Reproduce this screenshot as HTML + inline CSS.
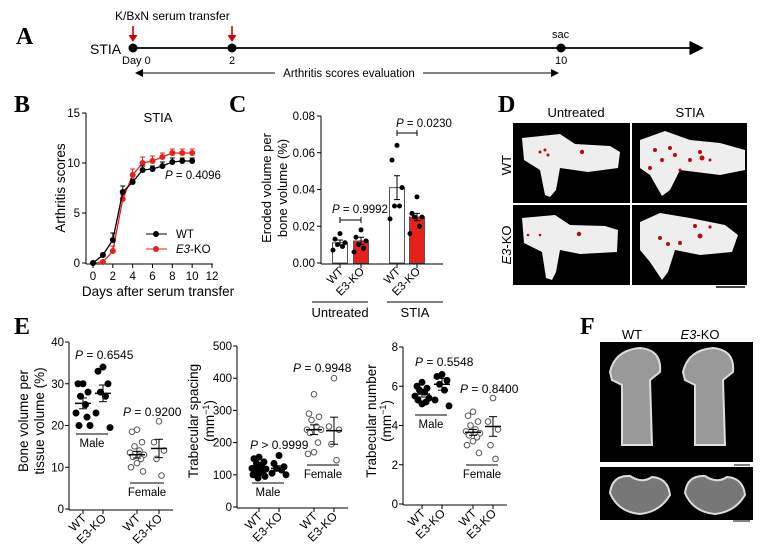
<!DOCTYPE html>
<html><head><meta charset="utf-8"><style>
body{margin:0;background:#fff}
svg{display:block;font-family:"Liberation Sans",Arial,sans-serif}
.pl{font-family:"Liberation Serif",serif;font-weight:bold;font-size:24px}
</style></head><body>
<svg id="fig" width="760" height="557" viewBox="0 0 760 557">
<defs>
<marker id="ah" markerWidth="8" markerHeight="8" refX="7" refY="4" orient="auto"><path d="M0,0 L8,4 L0,8 z" fill="#000"/></marker>
<marker id="ahs" markerWidth="8" markerHeight="8" refX="1" refY="4" orient="auto"><path d="M8,0 L0,4 L8,8 z" fill="#000"/></marker>
</defs>
<!-- Panel A -->
<g>
<text class="pl" x="16" y="44">A</text>
<text x="115" y="20" font-size="12">K/BxN serum transfer</text>
<line x1="133" y1="26" x2="133" y2="36" stroke="#c00" stroke-width="1.6"/>
<polygon points="128.5,35 137.5,35 133,42" fill="#c00"/>
<line x1="232" y1="26" x2="232" y2="36" stroke="#c00" stroke-width="1.6"/>
<polygon points="227.5,35 236.5,35 232,42" fill="#c00"/>
<text x="90" y="54" font-size="14">STIA</text>
<line x1="133" y1="48" x2="702" y2="48" stroke="#000" stroke-width="1.8" marker-end="url(#ah)"/>
<circle cx="133" cy="48" r="4.5" fill="#000"/><circle cx="232" cy="48" r="4.5" fill="#000"/><circle cx="561" cy="48" r="4.5" fill="#000"/>
<text x="552" y="38" font-size="11">sac</text>
<text x="122" y="64" font-size="11">Day 0</text><text x="229" y="64" font-size="11">2</text><text x="555" y="64" font-size="11">10</text>
<line x1="136" y1="73" x2="558" y2="73" stroke="#000" stroke-width="1" marker-start="url(#ahs)" marker-end="url(#ah)"/>
<rect x="275" y="65" width="148" height="14" fill="#fff"/>
<text x="349" y="77" font-size="11.5" text-anchor="middle">Arthritis scores evaluation</text>
</g>
<text class="pl" x="14" y="112">B</text>
<text class="pl" x="229" y="112">C</text>
<text class="pl" x="498" y="112">D</text>
<text class="pl" x="14" y="334">E</text>
<text class="pl" x="580" y="334">F</text>
<!-- Panel D images -->
<g>
<text x="576" y="117" font-size="13" text-anchor="middle">Untreated</text>
<text x="690" y="117" font-size="13" text-anchor="middle">STIA</text>
<text transform="translate(511,165) rotate(-90)" font-size="13" text-anchor="middle">WT</text>
<text transform="translate(511,245) rotate(-90)" font-size="13" text-anchor="middle"><tspan font-style="italic">E3</tspan>-KO</text>
<rect x="513" y="123" width="117" height="80" fill="#000"/><rect x="632" y="123" width="115" height="80" fill="#000"/>
<rect x="513" y="205" width="117" height="80" fill="#000"/><rect x="632" y="205" width="115" height="80" fill="#000"/>
<path d="M522,138 L560,134 L575,144 L610,146 L620,152 L618,168 L588,172 L560,168 L556,190 L550,197 L545,195 L540,170 L524,160 Z" fill="#eee"/>
<path d="M640,140 L665,131 L690,140 L720,143 L745,150 L745,170 L720,175 L680,170 L670,190 L662,196 L650,175 L640,168 Z" fill="#eee"/>
<path d="M522,218 L555,215 L570,225 L605,226 L618,230 L617,252 L580,254 L560,250 L556,272 L552,280 L546,278 L542,252 L524,243 Z" fill="#eee"/>
<path d="M640,222 L660,213 L690,218 L725,225 L738,235 L732,252 L700,255 L675,250 L668,272 L662,280 L650,262 L640,250 Z" fill="#eee"/>
<g fill="#b01010"><circle cx="540" cy="152" r="1.5"/><circle cx="545" cy="150" r="1.5"/><circle cx="582" cy="152" r="2.2"/><circle cx="548" cy="155" r="1.5"/>
<circle cx="655" cy="150" r="2"/><circle cx="662" cy="160" r="2"/><circle cx="670" cy="148" r="2"/><circle cx="690" cy="160" r="2"/><circle cx="700" cy="152" r="2"/><circle cx="702" cy="158" r="2.5"/><circle cx="680" cy="170" r="1.5"/><circle cx="650" cy="168" r="2"/><circle cx="675" cy="155" r="2"/><circle cx="710" cy="160" r="1.5"/>
<circle cx="528" cy="235" r="1.3"/><circle cx="540" cy="235" r="1.3"/><circle cx="579" cy="234" r="2.2"/>
<circle cx="660" cy="238" r="2"/><circle cx="668" cy="244" r="2"/><circle cx="680" cy="243" r="2"/><circle cx="695" cy="226" r="2"/><circle cx="700" cy="236" r="2.5"/><circle cx="710" cy="227" r="1.6"/></g>
<line x1="716" y1="287" x2="745" y2="287" stroke="#000" stroke-width="1.5"/>
</g>
<!-- Panel F images -->
<g>
<text x="632" y="339" font-size="13" text-anchor="middle">WT</text>
<text x="700" y="339" font-size="13" text-anchor="middle"><tspan font-style="italic">E3</tspan>-KO</text>
<rect x="600" y="342" width="153" height="120" fill="#000"/>
<rect x="600" y="467" width="153" height="53" fill="#000"/>
<path d="M610,372 Q615,350 640,348 Q662,350 660,372 L650,380 L652,445 L622,445 L622,385 L612,380 Z" fill="#999" stroke="#ddd" stroke-width="2"/>
<path d="M683,372 Q688,350 713,348 Q735,350 733,372 L723,380 L725,445 L695,445 L695,385 L685,380 Z" fill="#999" stroke="#ddd" stroke-width="2"/>
<path d="M610,493 Q612,475 630,476 Q642,484 652,477 Q668,478 670,495 Q660,512 640,514 Q618,512 610,493 Z" fill="#777" stroke="#ddd" stroke-width="2"/>
<path d="M685,493 Q687,475 705,476 Q717,484 727,477 Q743,478 745,495 Q735,512 715,514 Q693,512 685,493 Z" fill="#777" stroke="#ddd" stroke-width="2"/>
<line x1="734" y1="465" x2="750" y2="465" stroke="#000"/><line x1="733" y1="521" x2="750" y2="521" stroke="#000"/>
</g>
<g id="charts"></g>
</svg>
<script>
// Panel B data
const bDays=[0,1,2,3,4,5,6,7,8,9,10];
const bWT=[0,0.8,2.3,7.1,8.1,9.3,9.4,9.7,10.1,10.2,10.2];
const bWTerr=[0,0.1,0.7,0.6,0.3,0.4,0.3,0.4,0.4,0.3,0.3];
const bKO=[0,0.1,1.2,6.4,8.8,10.0,10.2,10.6,11.0,11.0,11.0];
const bKOerr=[0,0.1,0.5,0.4,0.6,0.6,0.5,0.4,0.4,0.4,0.4];
const bXTicks=[0,2,4,6,8,10,12];
const bYTicks=[0,5,10,15];
// Panel C data
const cCats=["WT","E3-KO","WT","E3-KO"];
const cMeans=[0.011,0.012,0.041,0.025];
const cErr=[0.0015,0.002,0.0065,0.002];
const cDots=[[0.016,0.013,0.011,0.010,0.009,0.007],[0.018,0.014,0.012,0.010,0.008,0.006],[0.064,0.056,0.041,0.031,0.031,0.024],[0.036,0.027,0.025,0.025,0.020,0.016]];
const cYTicks=["0.00","0.02","0.04","0.06","0.08"];
// Panel E data
const e1Dots=[[30,30,28,27,25,23,20,20,22],[34,33,30,28,27,23,19.5],[19,18.5,16,15,14,13.5,13,12.5,12,11,10,9],[21,16,14,12,8]];
const e1Means=[25.3,27.7,13,14.5];const e1Err=[1.3,2,0.8,2.2];
const e1YTicks=[0,10,20,30,40];
const e2Dots=[[155,150,140,135,130,120,118,115,110,105,100,95,90,125],[160,135,125,120,115,105,100],[350,290,280,270,250,240,240,230,200,170,165],[400,250,240,195,145]];
const e2Means=[120,120,240,237];const e2Err=[6,8,15,42];
const e2YTicks=[0,100,200,300,400,500];
const e3Dots=[[6.2,6.0,5.9,5.8,5.7,5.5,5.4,5.3,5.2,5.1],[6.6,6.5,6.3,6.1,5.8,5.3,5.0],[4.7,4.5,4.2,4.0,3.8,3.7,3.6,3.5,3.4,3.2,3.0,2.6],[5.4,4.2,3.8,3.0,2.3]];
const e3Means=[5.6,6.1,3.65,3.95];const e3Err=[0.15,0.3,0.15,0.5];
const e3YTicks=[0,2,4,6,8];

const NS="http://www.w3.org/2000/svg";
const root=document.getElementById('charts');
function mk(tag,attrs,parent,txt){const e=document.createElementNS(NS,tag);for(const k in attrs)e.setAttribute(k,attrs[k]);if(txt!==undefined)e.textContent=txt;(parent||root).appendChild(e);return e;}
function jit(i){const p=[0,-5,5,-2.5,2.5,-7,7,-4,4,0,-6,6,-1,1];return p[i%p.length];}

// ---------- Panel B ----------
(function(){
const g=mk('g',{});


const x=d=>93+d*(212-93)/12, y=v=>263-v*(150/15);
mk('line',{x1:86,y1:113,x2:86,y2:264,stroke:'#000'},g);
mk('line',{x1:86,y1:264,x2:213,y2:264,stroke:'#000'},g);
bYTicks.forEach(t=>{mk('line',{x1:82,y1:y(t),x2:86,y2:y(t),stroke:'#000'},g);mk('text',{x:80,y:y(t)+4,'text-anchor':'end','font-size':11.5},g,t);});
bXTicks.forEach(t=>{mk('line',{x1:x(t),y1:264,x2:x(t),y2:268,stroke:'#000'},g);mk('text',{x:x(t),y:280,'text-anchor':'middle','font-size':11.5},g,t);});
mk('text',{x:158,y:296,'text-anchor':'middle','font-size':13.5},g,'Days after serum transfer');
mk('text',{transform:'translate(65,188) rotate(-90)','text-anchor':'middle','font-size':13.5},g,'Arthritis scores');
mk('text',{x:158,y:122,'text-anchor':'middle','font-size':13},g,'STIA');
[[bKO,bKOerr,'#e8201a'],[bWT,bWTerr,'#000']].forEach(([s,er,c])=>{
 mk('polyline',{points:bDays.map((d,i)=>x(d)+','+y(s[i])).join(' '),fill:'none',stroke:c,'stroke-width':1.3},g);
 bDays.forEach((d,i)=>{if(er[i]>0){mk('line',{x1:x(d),y1:y(s[i]+er[i]),x2:x(d),y2:y(s[i]),stroke:c},g);mk('line',{x1:x(d)-2.5,y1:y(s[i]+er[i]),x2:x(d)+2.5,y2:y(s[i]+er[i]),stroke:c},g);}
 const p=mk('circle',{cx:x(d),cy:y(s[i]),r:3,fill:c},g);
 
 });
});
mk('text',{x:165,y:179,'font-size':11.5},g).innerHTML='<tspan font-style="italic">P</tspan> = 0.4096';
mk('line',{x1:146,y1:234,x2:167,y2:234,stroke:'#000'},g);mk('circle',{cx:156,cy:234,r:3,fill:'#000'},g);
mk('text',{x:176,y:238,'font-size':11.5},g,'WT');
mk('line',{x1:146,y1:249,x2:167,y2:249,stroke:'#e8201a'},g);mk('circle',{cx:156,cy:249,r:3,fill:'#e8201a'},g);
mk('text',{x:176,y:253,'font-size':11.5},g).innerHTML='<tspan font-style="italic">E3</tspan>-KO';
})();

// ---------- Panel C ----------
(function(){
const g=mk('g',{});


const y=v=>263-v*(147/0.08);const xs=[340,361,397,417];
mk('line',{x1:321,y1:116,x2:321,y2:264,stroke:'#000'},g);
mk('line',{x1:321,y1:264,x2:443,y2:264,stroke:'#000'},g);
cYTicks.forEach(t=>{const v=parseFloat(t);mk('line',{x1:317,y1:y(v),x2:321,y2:y(v),stroke:'#000'},g);mk('text',{x:315,y:y(v)+4,'text-anchor':'end','font-size':11.5},g,t);});
cMeans.forEach((m,i)=>{
 const b=mk('rect',{x:xs[i]-7.5,y:y(m),width:15,height:263-y(m),fill:i%2?'#e8201a':'#fff',stroke:'#555','stroke-width':1},g);
 
 
 mk('line',{x1:xs[i],y1:y(m-cErr[i]),x2:xs[i],y2:y(m+cErr[i]),stroke:'#000'},g);
 mk('line',{x1:xs[i]-3,y1:y(m+cErr[i]),x2:xs[i]+3,y2:y(m+cErr[i]),stroke:'#000'},g);
 mk('line',{x1:xs[i]-3,y1:y(m-cErr[i]),x2:xs[i]+3,y2:y(m-cErr[i]),stroke:'#000'},g);
 cDots[i].forEach((v,j)=>mk('circle',{cx:xs[i]+jit(j),cy:y(v),r:2.5,fill:'#000'},g));
 mk('line',{x1:xs[i],y1:264,x2:xs[i],y2:268,stroke:'#000'},g);
 mk('text',{transform:`translate(${xs[i]+4},${272}) rotate(-45)`,'text-anchor':'end','font-size':11.5},g,cCats[i]);
});
mk('text',{transform:'translate(271,188) rotate(-90)','text-anchor':'middle','font-size':13},g,'Eroded  volume per');
mk('text',{transform:'translate(287,188) rotate(-90)','text-anchor':'middle','font-size':13},g,'bone volume (%)');
mk('path',{d:'M340,217 V223 M340,220 H361 M361,217 V223',stroke:'#000',fill:'none'},g);
mk('text',{x:332,y:213,'font-size':11.5},g).innerHTML='<tspan font-style="italic">P</tspan> = 0.9992';
mk('path',{d:'M397,130 V136 M397,133 H417 M417,130 V136',stroke:'#000',fill:'none'},g);
mk('text',{x:396,y:127,'font-size':11.5},g).innerHTML='<tspan font-style="italic">P</tspan> = 0.0230';
mk('line',{x1:312,y1:302,x2:368,y2:302,stroke:'#000'},g);mk('line',{x1:387,y1:302,x2:443,y2:302,stroke:'#000'},g);
mk('text',{x:340,y:317,'text-anchor':'middle','font-size':13},g,'Untreated');
mk('text',{x:415,y:317,'text-anchor':'middle','font-size':13},g,'STIA');
})();

// ---------- Panel E ----------
function scatter(cfg){
 const g=mk('g',{});
 
 
 const y=v=>cfg.y0-v*(cfg.y0-cfg.yTop)/cfg.max;
 mk('line',{x1:cfg.ax,y1:cfg.yTop,x2:cfg.ax,y2:cfg.y0+1,stroke:'#000'},g);
 mk('line',{x1:cfg.ax,y1:cfg.y0+1,x2:cfg.xs[3]+14,y2:cfg.y0+1,stroke:'#000'},g);
 cfg.ticks.forEach(t=>{mk('line',{x1:cfg.ax-4,y1:y(t),x2:cfg.ax,y2:y(t),stroke:'#000'},g);mk('text',{x:cfg.ax-5,y:y(t)+4,'text-anchor':'end','font-size':11.5},g,t);});
 cfg.dots.forEach((arr,i)=>{const open=i>=2;
  arr.forEach((v,j)=>mk('circle',{cx:cfg.xs[i]+jit(j),cy:y(v),r:open?2.8:3,fill:open?'#fff':'#000',stroke:open?'#555':'#000','stroke-width':1},g));
  const m=cfg.means[i],e=cfg.err[i],x=cfg.xs[i];
  mk('line',{x1:x-8,y1:y(m),x2:x+8,y2:y(m),stroke:'#000','stroke-width':1.5},g);
  mk('line',{x1:x,y1:y(m-e),x2:x,y2:y(m+e),stroke:'#000'},g);
  mk('line',{x1:x-4,y1:y(m+e),x2:x+4,y2:y(m+e),stroke:'#000'},g);
  mk('line',{x1:x-4,y1:y(m-e),x2:x+4,y2:y(m-e),stroke:'#000'},g);
  mk('line',{x1:x,y1:cfg.y0+1,x2:x,y2:cfg.y0+5,stroke:'#000'},g);
  mk('text',{transform:`translate(${x+4},${cfg.y0+10}) rotate(-45)`,'text-anchor':'end','font-size':12},g,i%2?'E3-KO':'WT');
 });
 [[0,cfg.maleY,'Male'],[2,cfg.femY,'Female']].forEach(([i,ly,t])=>{const a=cfg.xs[i]-7,b=cfg.xs[i+1]+5;
  mk('line',{x1:a,y1:ly,x2:b,y2:ly,stroke:'#000'},g);mk('text',{x:(a+b)/2,y:ly+13,'text-anchor':'middle','font-size':11.5},g,t);});
 mk('text',{x:cfg.p1[0],y:cfg.p1[1],'font-size':12},g).innerHTML='<tspan font-style="italic">P</tspan> '+cfg.p1[2];
 mk('text',{x:cfg.p2[0],y:cfg.p2[1],'font-size':12},g).innerHTML='<tspan font-style="italic">P</tspan> '+cfg.p2[2];
 cfg.label.forEach((l,k)=>mk('text',{transform:`translate(${cfg.lx[k]},${cfg.ly}) rotate(-90)`,'text-anchor':'middle','font-size':13.5},g).innerHTML=l);
}
scatter({name:'bone-volume-chart',ax:69,y0:509,yTop:342,max:40,ticks:e1YTicks,xs:[83,103,137,159],dots:e1Dots,means:e1Means,err:e1Err,maleY:434,femY:483,
 p1:[75,359,'= 0.6545'],p2:[123,416,'= 0.9200'],label:['Bone volume per','tissue volume (%)'],lx:[28,44],ly:421});
scatter({name:'trabecular-spacing-chart',ax:237,y0:507,yTop:346,max:500,ticks:e2YTicks,xs:[259,279,314,334],dots:e2Dots,means:e2Means,err:e2Err,maleY:483,femY:465,
 p1:[250,449,'&gt; 0.9999'],p2:[293,372,'= 0.9948'],label:['Trabecular spacing','(mm<tspan font-size="9" dy="-5">−1</tspan><tspan dy="5">)</tspan>'],lx:[198,214],ly:421});
scatter({name:'trabecular-number-chart',ax:403,y0:504,yTop:347,max:8,ticks:e3YTicks,xs:[422,442,473,493],dots:e3Dots,means:e3Means,err:e3Err,maleY:415,femY:465,
 p1:[415,366,'= 0.5548'],p2:[460,393,'= 0.8400'],label:['Trabecular number','(mm<tspan font-size="9" dy="-5">−1</tspan><tspan dy="5">)</tspan>'],lx:[376,391],ly:421});
</script>
</body></html>
